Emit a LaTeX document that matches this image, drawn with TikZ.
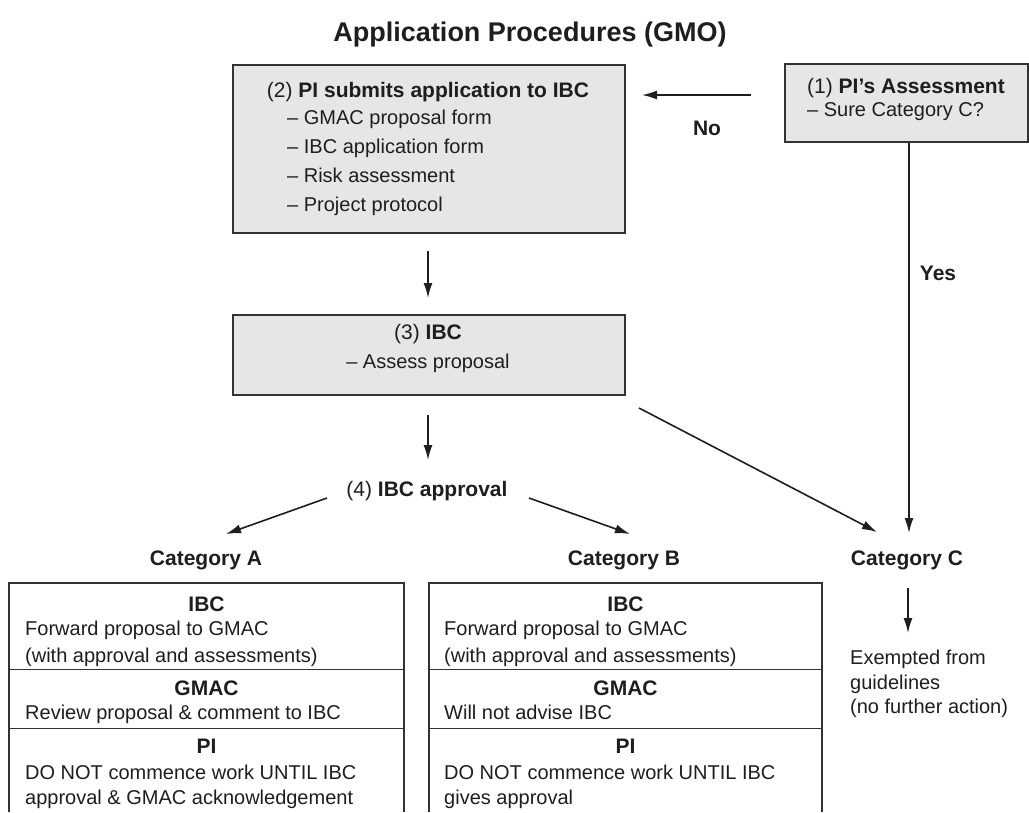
\documentclass[tikz,border=0pt]{standalone}
\usepackage{fontspec}
\setmainfont{Liberation Sans}
\usetikzlibrary{arrows.meta}
\definecolor{boxfill}{HTML}{E6E6E6}
\definecolor{ink}{HTML}{1E1E1E}
\definecolor{edge}{HTML}{333333}
\begin{document}
\begin{tikzpicture}[x=1pt,y=-1pt,
  arr/.style={-{Latex[length=15pt,width=9pt]}, line width=1.6pt, draw=ink},
  graybox/.style={draw=edge, line width=2.4pt, fill=boxfill, inner sep=0pt, anchor=north west},
  framebox/.style={draw=none, inner sep=0pt, anchor=north west},
  frameline/.style={draw=edge, line width=2pt},
  divline/.style={draw=edge, line width=1pt},
  txt/.style={inner sep=0pt, anchor=base, font=\fontsize{20}{24}\selectfont, text=ink},
  txtl/.style={txt, anchor=base west},
  hd/.style={inner sep=0pt, anchor=base, font=\fontsize{21}{25}\selectfont, text=ink},
  hdl/.style={hd, anchor=base west},
  hdb/.style={hd, font=\fontsize{21}{25}\selectfont\bfseries},
]
\useasboundingbox[fill=white] (0,0) rectangle (1029,812);

% title
\node[inner sep=0pt, anchor=base, font=\fontsize{27}{32}\selectfont\bfseries, text=ink] (title) at (530,41) {Application Procedures (GMO)};

% box 1
\node[graybox, minimum width=243pt, minimum height=78pt] (box1) at (784,63) {};
\node[hdl] (b1h) at (807,93) {(1) \textbf{PI’s Assessment}};
\node[txtl] (b1a) at (807,116) {– Sure Category C?};

% box 2
\node[graybox, minimum width=392pt, minimum height=168pt] (box2) at (232,64) {};
\node[hd] (b2h) at (428,97) {(2) \textbf{PI submits application to IBC}};
\node[txtl] (b2a) at (287,124) {– GMAC proposal form};
\node[txtl] (b2b) at (287,153) {– IBC application form};
\node[txtl] (b2c) at (287,182) {– Risk assessment};
\node[txtl] (b2d) at (287,211) {– Project protocol};

% box 3
\node[graybox, minimum width=392pt, minimum height=80pt] (box3) at (232,314) {};
\node[hd] (b3h) at (428,339) {(3) \textbf{IBC}};
\node[txt] (b3a) at (428,368) {– Assess proposal};

% step 4
\node[hd] (ibcapp) at (427,496) {(4) \textbf{IBC approval}};

% labels
\node[hdb] (no) at (707,135) {No};
\node[hdb] (yes) at (938,280) {Yes};

% categories
\node[hdb] (catA) at (206,565) {Category A};
\node[hdb] (catB) at (624,565) {Category B};
\node[hdb] (catC) at (907,565) {Category C};

% connector end points
\coordinate (noS) at (751,95);
\coordinate (noE) at (642,95);
\coordinate (yesE) at (909,533);
\coordinate (d2a) at (428,251);
\coordinate (d2b) at (428,298);
\coordinate (d3a) at (428,415);
\coordinate (d3b) at (428,460);
\coordinate (toAa) at (327,498);
\coordinate (toAb) at (226,534);
\coordinate (toBa) at (529,498);
\coordinate (toBb) at (630,534);
\coordinate (toCa) at (639,408);
\coordinate (toCb) at (877,532);
\coordinate (exA) at (908,588);
\coordinate (exB) at (908,633);

\draw[arr] (noS) -- (noE);
\draw[arr] (box1.south -| yesE) -- (yesE);
\draw[arr] (d2a) -- (d2b);
\draw[arr] (d3a) -- (d3b);
\draw[arr] (toAa) -- (toAb);
\draw[arr] (toBa) -- (toBb);
\draw[arr] (toCa) -- (toCb);
\draw[arr] (exA) -- (exB);

% box A
\node[framebox, minimum width=395pt, minimum height=229pt] (boxA) at (9,583) {};
\draw[frameline] (boxA.south west) -- (boxA.north west) -- (boxA.north east) -- (boxA.south east);
\draw[divline] (9,669) -- (404,669);
\draw[divline] (9,728) -- (404,728);
\node[hdb] (aIBC) at (206.5,611) {IBC};
\node[txtl] (a1) at (25,635) {Forward proposal to GMAC};
\node[txtl] (a2) at (25,662) {(with approval and assessments)};
\node[hdb] (aGMAC) at (206.5,695) {GMAC};
\node[txtl] (a3) at (25,719) {Review proposal \& comment to IBC};
\node[hdb] (aPI) at (206.5,753) {PI};
\node[txtl] (a4) at (25,779) {DO NOT commence work UNTIL IBC};
\node[txtl] (a5) at (25,804) {approval \& GMAC acknowledgement};

% box B
\node[framebox, minimum width=393pt, minimum height=229pt] (boxB) at (429,583) {};
\draw[frameline] (boxB.south west) -- (boxB.north west) -- (boxB.north east) -- (boxB.south east);
\draw[divline] (429,669) -- (822,669);
\draw[divline] (429,728) -- (822,728);
\node[hdb] (bIBC) at (625.5,611) {IBC};
\node[txtl] (b1) at (444,635) {Forward proposal to GMAC};
\node[txtl] (b2) at (444,662) {(with approval and assessments)};
\node[hdb] (bGMAC) at (625.5,695) {GMAC};
\node[txtl] (b3) at (444,719) {Will not advise IBC};
\node[hdb] (bPI) at (625.5,753) {PI};
\node[txtl] (b4) at (444,779) {DO NOT commence work UNTIL IBC};
\node[txtl] (b5) at (444,804) {gives approval};

% category C text
\node[txtl] (c1) at (850,664) {Exempted from};
\node[txtl] (c2) at (850,689) {guidelines};
\node[txtl] (c3) at (850,713) {(no further action)};
\end{tikzpicture}
\end{document}
